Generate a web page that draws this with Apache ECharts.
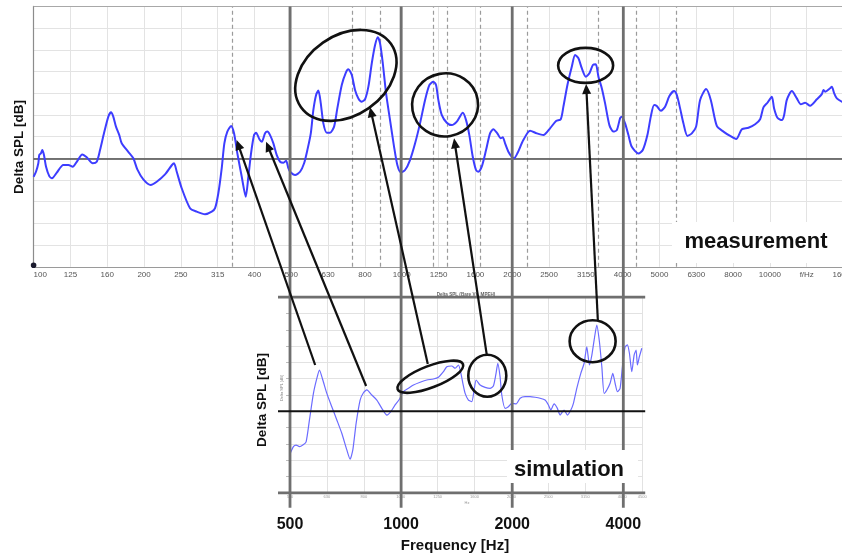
<!DOCTYPE html>
<html>
<head>
<meta charset="utf-8">
<script src="https://cdn.jsdelivr.net/npm/echarts@6/dist/echarts.min.js"></script>
<style>
  html, body { margin: 0; padding: 0; background: #fff; }
  #chart { width: 842px; height: 556px; }
</style>
</head>
<body>
<div id="chart"></div>
<script>
// Measured Delta SPL (1/3-octave view, 100 Hz - 16 kHz)
const measFreq = [100, 101.5, 103.0, 103.6, 104.7, 105.6, 106.7, 108.1, 110.3, 112.2, 115.6, 120.4, 124.3, 127.7, 131.0,
  135.6, 139.4, 144.7, 148.4, 151.5, 155.3, 159.6, 162.3, 164.6, 167.4, 170.9, 173.5, 180.8, 186.6, 191.3,
  198.6, 208.0, 216.0, 227.5, 237.3, 240.7, 244.8, 252.5, 266.0, 277.4, 292.2, 304.7, 311.1, 317.5, 324.3,
  329.7, 335.9, 343.9, 350.3, 357.6, 367.6, 376.9, 383.1, 389.6, 397.0, 402.0, 410.5, 416.7, 425.3, 431.5,
  438.8, 448.0, 457.6, 467.2, 477.0, 485.1, 492.1, 497.4, 513.1, 529.4, 542.9, 554.1, 566.1, 575.3, 585.2,
  593.6, 602.6, 612.4, 625.7, 638.6, 654.9, 668.3, 687.1, 704.5, 716.0, 731.5, 746.6, 762.3, 778.6, 794.9,
  811.6, 829.0, 846.3, 860.7, 873.0, 888.1, 906.4, 929.3, 953.0, 972.7, 993.8, 1021, 1053, 1087, 1121,
  1157, 1189, 1218, 1239, 1257, 1284, 1325, 1367, 1411, 1465, 1495, 1526, 1559, 1591, 1615,
  1649, 1694, 1737, 1773, 1818, 1857, 1881, 1908, 1948, 1990, 2019, 2061, 2139, 2231, 2326,
  2425, 2528, 2625, 2703, 2748, 2818, 2896, 2957, 3019, 3083, 3162, 3234, 3304, 3365, 3421,
  3494, 3567, 3664, 3756, 3838, 3917, 3960, 4042, 4127, 4215, 4393, 4515, 4647, 4747, 4846,
  4928, 5053, 5191, 5333, 5491, 5585, 5702, 5821, 5969, 6135, 6302, 6462, 6709, 6908, 7173,
  7476, 7797, 8095, 8389, 8743, 9117, 9406, 9601, 9845, 10120, 10265, 10481, 10773, 10930, 11115,
  11468, 11833, 12131, 12462, 12858, 13408, 13836, 13973, 14125, 14571, 14730, 14941, 15195, 15677, 16500];
const measVal = [-0.85, -0.62, -0.23, 0.15, 0.23, 0.38, 0.15, -0.39, -0.82, -0.92, -0.66, -0.31, -0.31, -0.39, -0.16,
  0.18, 0.05, -0.23, -0.16, 0.38, 1.15, 1.92, 2.12, 1.92, 1.46, 1.07, 0.69, 0.30, 0.00, -0.51,
  -0.97, -1.23, -1.08, -0.74, -0.32, -0.23, -0.62, -1.38, -2.30, -2.46, -2.58, -2.46, -2.30, -1.61, -0.46,
  0.69, 1.23, 1.49, 1.15, 0.23, -0.85, -1.77, -0.85, 0.23, 1.07, 1.18, 0.88, 0.76, 1.15, 1.23,
  1.07, 0.69, 0.15, -0.16, -0.20, -0.11, -0.46, -0.62, -0.77, -0.62, -0.23, 0.38, 1.15, 2.23, 2.92,
  3.12, 2.53, 1.61, 1.18, 1.18, 1.46, 2.30, 3.38, 3.94, 4.10, 3.84, 3.15, 2.76, 2.61, 2.72,
  3.30, 4.38, 5.22, 5.58, 5.30, 4.38, 3.00, 1.76, 0.53, -0.31, -0.65, -0.54, -0.08, 0.69, 1.61,
  2.69, 3.38, 3.53, 3.38, 2.69, 2.00, 1.64, 1.53, 1.69, 2.10, 1.76, 1.07, 0.07, -0.54, -0.62,
  -0.39, 0.38, 1.15, 1.34, 1.15, 0.92, 0.97, 0.69, 0.30, 0.07, 0.00, 0.23, 0.84, 1.27, 1.15,
  1.07, 1.38, 1.72, 1.80, 2.38, 3.38, 4.22, 4.76, 4.61, 4.15, 3.76, 3.92, 4.30, 4.33, 3.76,
  3.23, 2.53, 1.53, 1.23, 1.30, 1.84, 1.92, 1.61, 1.07, 0.53, 0.22, 0.38, 1.07, 1.92, 2.46,
  2.41, 2.19, 2.38, 2.87, 3.10, 2.92, 2.30, 1.61, 1.03, 1.15, 1.46, 2.69, 3.19, 2.69, 1.49,
  1.23, 1.03, 0.89, 1.34, 1.41, 1.57, 1.80, 2.35, 2.56, 2.84, 2.30, 1.87, 1.76, 2.00, 2.69,
  3.10, 2.76, 2.49, 2.56, 2.42, 2.72, 2.96, 3.15, 3.07, 3.23, 3.30, 3.00, 2.76, 2.61, 2.45];

// Simulated Delta SPL (500 Hz - 4.5 kHz)
const simFreq = [500, 510.7, 519.4, 530.3, 541.7, 552.9, 564.5, 578.7, 591.1, 600.8, 613.6, 629.1, 648.9, 669.6, 690.7,
  712.7, 727.5, 739.9, 755.3, 774.4, 790.6, 807.5, 833.0, 859.5, 886.7, 915.0, 937.8, 963.2, 989.5, 1014,
  1047, 1080, 1126, 1174, 1223, 1262, 1302, 1330, 1372, 1401, 1430, 1450, 1470, 1491, 1522,
  1554, 1577, 1597, 1637, 1689, 1742, 1778, 1805, 1828, 1854, 1874, 1913, 1953, 1995, 2050,
  2101, 2167, 2236, 2307, 2380, 2455, 2507, 2544, 2597, 2651, 2696, 2764, 2822, 2883, 2930,
  2992, 3068, 3132, 3185, 3238, 3287, 3334, 3390, 3446, 3498, 3548, 3609, 3683, 3746, 3800,
  3855, 3920, 3986, 4045, 4103, 4155, 4217, 4279, 4332, 4367, 4422, 4489];
const simVal = [-2.62, -2.17, -2.07, -2.17, -2.07, -1.87, -0.53, 1.10, 2.02, 2.53, 1.92, 1.10, 0.28, -0.53, -1.35,
  -2.37, -2.94, -2.37, -0.74, 0.69, 1.14, 1.31, 1.00, 0.69, 0.18, -0.23, -0.02, 0.39, 0.74, 1.20,
  1.41, 1.61, 1.78, 1.92, 1.98, 2.09, 2.43, 2.74, 2.78, 2.64, 2.84, 2.41, 1.72, 1.10, 0.69,
  0.59, 1.31, 1.92, 1.61, 1.47, 1.41, 1.55, 2.23, 2.94, 2.12, 1.00, 0.18, 0.28, 0.49, 0.45,
  0.80, 0.90, 0.90, 0.86, 0.80, 0.69, 0.39, 0.08, 0.45, 0.18, -0.23, 0.08, -0.23, 0.08, 0.49,
  1.41, 2.33, 2.94, 3.96, 2.84, 3.45, 4.37, 5.29, 4.27, 2.74, 1.10, 1.31, 1.72, 2.33, 1.72,
  1.20, 1.41, 2.94, 3.96, 4.07, 3.56, 2.43, 3.45, 3.76, 2.84, 3.35, 3.87];

// Axis ranges and tick labels
const measRange = [100, 16500];
const simRange = [500, 4500];
const valueRange = [-5, 7];
const measTickLabels = ['100', '125', '160', '200', '250', '315', '400', '500', '630', '800', '1000', '1250', '1600',
  '2000', '2500', '3150', '4000', '5000', '6300', '8000', '10000', 'f/Hz', '16000'];
const simTickLabels = ['500', '630', '800', '1000', '1250', '1600', '2000', '2500', '3150', '4000'];
const simEdgeLabel = '4500';
const octaveFreqs = [500, 1000, 2000, 4000];
const octaveLabels = ['500', '1000', '2000', '4000'];
const dashedFreqs = [346, 733, 873, 1216, 1328, 1632, 2190, 3414, 4330, 5563];

// Features linked between the two plots: [frequency, value]
const simRingCenters = [[1200, 2.12], [1712, 2.18], [3303, 4.30]];
const measRingCenters = [[705, 3.82], [1311, 2.46], [3158, 4.28]];
const arrowFrom = [[585, 2.84], [804, 1.55], [1181, 2.90], [1707, 3.45], [3412, 5.60]];
const arrowTo = [[356, 0.84], [428, 0.76], [820, 2.35], [1387, 0.92], [3168, 3.42]];
// ring shapes in px: [rx, ry, rotation deg]
const simRingShapes = [[35, 10.8, 21], [19, 21, 0], [23, 21, 0]];
const measRingShapes = [[55, 40, 35], [33, 31.5, 10], [27.5, 17.5, 0]];

const lg = Math.log10;
const bold = (px) => 'bold ' + px + 'px "Liberation Sans", Arial, sans-serif';

function tickFormatter(labels, lo, hi, edge) {
  return function (v) {
    const i = Math.round((v - lo) * 10);
    if (Math.abs(v - lo - i / 10) < 0.005 && labels[i] !== undefined) return labels[i];
    if (edge && Math.abs(v - hi) < 0.005) return edge;
    return '';
  };
}

const chart = echarts.init(document.getElementById('chart'), null, { renderer: 'canvas' });

const option = {
  animation: false,
  backgroundColor: '#ffffff',
  grid: [
    { left: 33.6, right: -8, top: 6.4, height: 260.4, outerBoundsMode: 'none', containLabel: false },
    { left: 290, width: 352.2, top: 297.2, height: 195.6, outerBoundsMode: 'none', containLabel: false }
  ],
  xAxis: [
    { type: 'log', gridIndex: 0, position: 'bottom', logBase: 10, min: measRange[0], max: measRange[1],
      axisLine: { show: true, onZero: false, lineStyle: { color: '#9a9a9a', width: 1.2 } },
      axisTick: { show: false }, axisLabel: { show: false }, splitLine: { show: false } },
    { type: 'value', gridIndex: 0, position: 'bottom', min: lg(measRange[0]), max: lg(measRange[1]), interval: 0.1,
      axisLine: { show: false, onZero: false }, axisTick: { show: false },
      axisLabel: { fontSize: 8, color: '#555', margin: 4, alignMinLabel: 'left',
        fontFamily: '"Liberation Sans", Arial, sans-serif',
        formatter: tickFormatter(measTickLabels, lg(measRange[0]), lg(measRange[1])) },
      splitLine: { show: true, lineStyle: { color: '#e3e3e3', width: 1 } } },
    { type: 'log', gridIndex: 1, position: 'bottom', logBase: 10, min: simRange[0], max: simRange[1],
      axisLine: { show: false, onZero: false }, axisTick: { show: false }, axisLabel: { show: false }, splitLine: { show: false } },
    { type: 'value', gridIndex: 1, position: 'bottom', min: lg(simRange[0]), max: lg(simRange[1]), interval: 0.1,
      axisLine: { show: false, onZero: false }, axisTick: { show: false },
      axisLabel: { fontSize: 4, color: '#999', margin: 2,
        formatter: tickFormatter(simTickLabels, lg(simRange[0]), lg(simRange[1]), simEdgeLabel) },
      splitLine: { show: true, lineStyle: { color: '#e2e2e2', width: 1 } } }
  ],
  yAxis: [
    { type: 'value', gridIndex: 0, min: valueRange[0], max: valueRange[1], interval: 1,
      axisLine: { show: true, lineStyle: { color: '#8c8c8c', width: 1.2 } },
      axisTick: { show: false }, axisLabel: { show: false },
      splitLine: { lineStyle: { color: '#e3e3e3', width: 1 } } },
    { type: 'value', gridIndex: 1, min: valueRange[0], max: valueRange[1], interval: 1,
      axisLine: { show: false }, axisTick: { show: true, length: 4, lineStyle: { color: '#bdbdbd' } },
      axisLabel: { show: false },
      splitLine: { lineStyle: { color: '#e2e2e2', width: 1 } } }
  ],
  series: [
    { type: 'line', xAxisIndex: 0, yAxisIndex: 0, z: 3,
      data: measFreq.map((f, i) => [f, measVal[i]]),
      symbol: 'none', smooth: 0.25,
      lineStyle: { color: '#3d3dff', width: 2 },
      markLine: {
        silent: true, symbol: ['none', 'none'], label: { show: false }, z: 1,
        data: dashedFreqs.map(f => ({ xAxis: f, lineStyle: { type: [4, 3], color: '#9b9b9b', width: 1.2 } }))
          .concat([
            { yAxis: 0, lineStyle: { type: 'solid', color: '#4a4a4a', width: 1.6 } },
            { yAxis: valueRange[1], lineStyle: { type: 'solid', color: '#a8a8a8', width: 1.2 } }
          ])
      } },
    { type: 'line', xAxisIndex: 2, yAxisIndex: 1, z: 3,
      data: simFreq.map((f, i) => [f, simVal[i]]),
      symbol: 'none', smooth: 0.2,
      lineStyle: { color: '#6b6bff', width: 1.2 } }
  ]
};

chart.setOption(option);

// --- annotation layer ---
const meas = (p) => chart.convertToPixel({ xAxisIndex: 0, yAxisIndex: 0 }, p);
const sim = (p) => chart.convertToPixel({ xAxisIndex: 2, yAxisIndex: 1 }, p);
const g = [];
const heavy = { stroke: '#6f6f6f', lineWidth: 2.8 };

const simTop = sim([simRange[0], valueRange[1]])[1];
const simBot = sim([simRange[0], valueRange[0]])[1];
const simLeft = sim([simRange[0], 0])[0];
const simRight = sim([simRange[1], 0])[0];
const measTop = meas([measRange[0], valueRange[1]])[1];

// octave lines shared by both plots
octaveFreqs.forEach(f => {
  const x = sim([f, 0])[0];
  g.push({ type: 'line', z: 4, shape: { x1: x, y1: measTop, x2: x, y2: simBot + 15 }, style: heavy });
});
// frame and zero line of the simulation plot
[simTop, simBot].forEach(y => {
  g.push({ type: 'line', z: 4, shape: { x1: simLeft - 12, y1: y, x2: simRight + 3, y2: y }, style: heavy });
});
const simZero = sim([simRange[0], 0])[1];
g.push({ type: 'line', z: 5, shape: { x1: simLeft - 12, y1: simZero, x2: simRight + 3, y2: simZero },
  style: { stroke: '#111', lineWidth: 2 } });

// origin dot of the measurement plot
const o = meas([measRange[0], valueRange[0]]);
g.push({ type: 'circle', z: 6, shape: { cx: o[0], cy: o[1] - 1.5, r: 2.8 }, style: { fill: '#1a1a2e' } });

// small texts of the simulation plot
g.push({ type: 'text', z: 6, x: 466, y: 294.5,
  style: { text: 'Delta SPL (Bare Vs. MPEH)', font: 'bold 4.6px Arial, sans-serif', fill: '#666',
    align: 'center', verticalAlign: 'middle', textAlign: 'center', textVerticalAlign: 'middle' } });
g.push({ type: 'text', z: 6, x: 282, y: 388, rotation: Math.PI / 2,
  style: { text: 'Delta SPL [dB]', font: '4px Arial, sans-serif', fill: '#888',
    align: 'center', verticalAlign: 'middle', textAlign: 'center', textVerticalAlign: 'middle' } });
g.push({ type: 'text', z: 6, x: 467, y: 503,
  style: { text: 'Hz', font: '4px Arial, sans-serif', fill: '#999',
    align: 'center', verticalAlign: 'middle', textAlign: 'center', textVerticalAlign: 'middle' } });

// white label boxes
g.push({ type: 'rect', z: 20, shape: { x: 672, y: 222, width: 175, height: 41 }, style: { fill: '#fff' } });
g.push({ type: 'rect', z: 20, shape: { x: 507, y: 450, width: 131, height: 33 }, style: { fill: '#fff' } });

const txt = (s, x, y, size, rot) => ({
  type: 'text', z: 21, x: x, y: y, rotation: rot || 0,
  style: { text: s, font: bold(size), fill: '#111',
    align: 'center', verticalAlign: 'middle', textAlign: 'center', textVerticalAlign: 'middle' }
});
g.push(txt('measurement', 756, 242, 22));
g.push(txt('simulation', 569, 470, 22));
g.push(txt('Delta SPL [dB]', 19.5, 147, 13.5, Math.PI / 2));
g.push(txt('Delta SPL [dB]', 262.5, 400, 13.5, Math.PI / 2));
octaveFreqs.forEach((f, i) => {
  g.push(txt(octaveLabels[i], sim([f, 0])[0], 525, 16));
});
g.push(txt('Frequency [Hz]', 455, 546, 15));

// rings
const ring = (c, s) => ({
  type: 'ellipse', z: 30, x: c[0], y: c[1], rotation: s[2] * Math.PI / 180,
  shape: { cx: 0, cy: 0, rx: s[0], ry: s[1] },
  style: { fill: 'none', stroke: '#111', lineWidth: 2.6 }
});
measRingCenters.forEach((p, i) => g.push(ring(meas(p), measRingShapes[i])));
simRingCenters.forEach((p, i) => g.push(ring(sim(p), simRingShapes[i])));

// arrows
arrowFrom.forEach((p, i) => {
  const s = sim(p), t = meas(arrowTo[i]);
  const dx = t[0] - s[0], dy = t[1] - s[1];
  const len = Math.sqrt(dx * dx + dy * dy);
  const ux = dx / len, uy = dy / len;
  const hl = 10, hw = 4.5;
  const bx = t[0] - ux * hl, by = t[1] - uy * hl;
  g.push({ type: 'line', z: 30, shape: { x1: s[0], y1: s[1], x2: bx + ux * 2, y2: by + uy * 2 },
    style: { stroke: '#111', lineWidth: 2.2 } });
  g.push({ type: 'polygon', z: 30,
    shape: { points: [[t[0], t[1]], [bx - uy * hw, by + ux * hw], [bx + uy * hw, by - ux * hw]] },
    style: { fill: '#111' } });
});

chart.setOption({ graphic: { elements: g } });
</script>
</body>
</html>
